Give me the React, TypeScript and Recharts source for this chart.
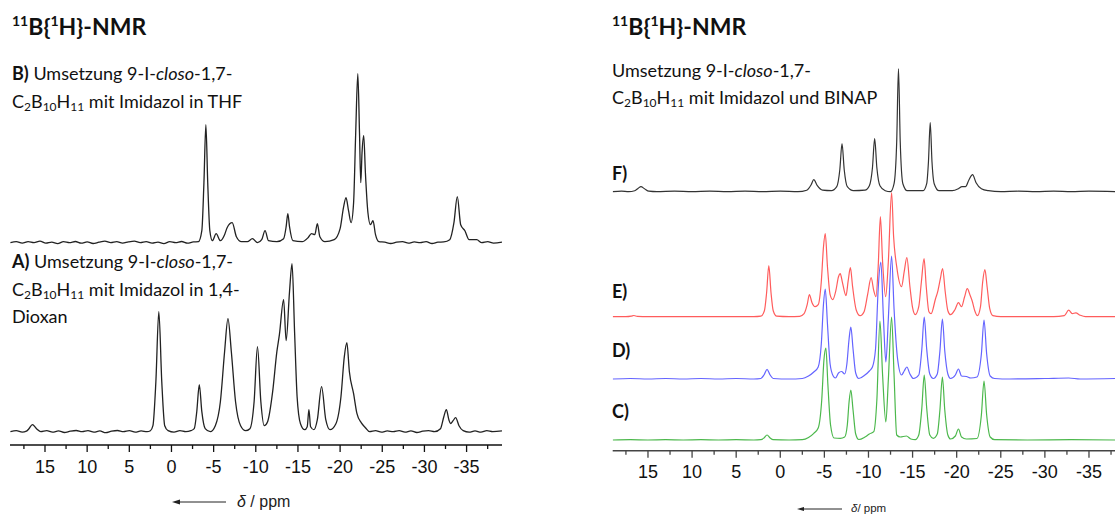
import React from 'react';
import { LineChart, Line, XAxis, YAxis } from 'recharts';

// [ppm, relative intensity] (intensity in a.u., baseline = 0)
const SPEC_B: [number, number][] = [
  [19.1, 0], [18.4, 1], [17.7, -0.5], [17.0, 1], [16.3, 0], [15.6, 1.5], [14.9, -0.5], [14.2, 0.5],
  [13.5, -1], [12.8, 1], [12.1, 0], [11.4, 1.2], [10.7, -0.5], [10.0, 0.8], [9.3, -0.8], [8.6, 0.5],
  [7.9, 1.5], [7.2, 0], [6.5, 1], [5.8, -0.5], [5.1, 0.8], [4.4, 1.5], [3.7, 0], [3.0, 1], [2.3, -0.5],
  [1.6, 0.5], [0.9, -1], [0.2, 1], [-0.5, 0], [-1.2, 1.2], [-1.9, -0.5], [-2.6, 0.8], [-3.2, 1],
  [-3.6, 12], [-3.85, 60], [-4.08, 118], [-4.3, 60], [-4.55, 12], [-4.85, 2], [-5.3, 9], [-5.8, 2],
  [-6.3, 8], [-6.6, 15], [-7.2, 20], [-7.7, 6], [-8.3, 1], [-9.0, 1], [-9.6, 4], [-10.2, 0], [-10.7, 3],
  [-11.1, 12], [-11.5, 2], [-12.5, 1], [-13.3, 4], [-13.6, 16], [-13.8, 29], [-14.0, 16], [-14.4, 2],
  [-15.5, 1], [-16.2, 5], [-16.6, 9], [-17.0, 8], [-17.3, 19], [-17.6, 6], [-18.2, 1], [-19.3, 3],
  [-20.0, 14], [-20.4, 35], [-20.7, 45], [-21.0, 32], [-21.3, 20], [-21.6, 40], [-21.85, 110],
  [-22.1, 169], [-22.3, 110], [-22.45, 60], [-22.6, 90], [-22.8, 107], [-23.0, 70], [-23.3, 30],
  [-23.6, 18], [-23.9, 22], [-24.2, 8], [-24.6, 1], [-25.3, 0.5], [-26.0, -0.8], [-26.7, 0.5],
  [-27.4, 1], [-28.1, -0.5], [-28.8, 0.8], [-29.5, 0], [-30.2, 1], [-30.9, -0.8], [-31.6, 0.5],
  [-32.3, 0.8], [-33.0, 3], [-33.5, 20], [-33.9, 46], [-34.3, 18], [-34.8, 12], [-35.3, 3],
  [-36.2, 3], [-36.8, 0], [-37.5, 1], [-38.2, -0.5], [-39.2, 0.5],
];

const SPEC_A: [number, number][] = [
  [19.1, 0], [18.4, 1], [17.7, -0.5], [17.2, 0.5], [16.9, 3], [16.5, 7], [16.0, 3], [15.5, 0],
  [14.8, 1], [14.1, -0.5], [13.4, 0.8], [12.7, -0.8], [12.0, 0.5], [11.3, 1.2], [10.6, 0], [9.9, 1],
  [9.2, -0.5], [8.5, 0.8], [7.8, -1], [7.1, 0.5], [6.4, 1.2], [5.7, 0], [5.0, 1], [4.3, -0.5],
  [3.6, 0.8], [2.9, 0], [2.5, 1], [2.2, 6], [1.85, 50], [1.5, 120], [1.15, 50], [0.8, 6], [0.4, 1],
  [-0.3, -0.5], [-1.0, 1], [-1.7, 0], [-2.3, 1], [-2.7, 3], [-3.0, 20], [-3.3, 47], [-3.6, 20],
  [-4.0, 3], [-4.6, 0], [-5.2, 6], [-5.8, 30], [-6.3, 80], [-6.7, 113], [-7.1, 80], [-7.6, 30],
  [-8.2, 6], [-8.8, 1], [-9.3, 3], [-9.8, 30], [-10.2, 85], [-10.6, 30], [-11.0, 6], [-11.4, 10],
  [-12.0, 40], [-12.5, 80], [-12.8, 97], [-13.3, 132], [-13.6, 91], [-14.0, 140], [-14.3, 168],
  [-14.6, 100], [-14.9, 35], [-15.3, 8], [-15.8, 2], [-16.1, 5], [-16.3, 22], [-16.5, 5], [-16.9, 2],
  [-17.3, 12], [-17.8, 45], [-18.3, 12], [-18.8, 2], [-19.5, 8], [-20.1, 35], [-20.5, 75],
  [-20.8, 89], [-21.1, 60], [-21.6, 38], [-22.0, 18], [-22.5, 9], [-23.0, 4], [-23.5, 0],
  [-24.2, 1], [-24.9, -0.5], [-25.6, 0.8], [-26.3, 0], [-27.0, 1], [-27.7, -0.5], [-28.4, 0.8],
  [-29.1, -0.8], [-29.8, 0.5], [-30.5, 1], [-31.2, 0], [-31.9, 3], [-32.3, 15], [-32.6, 22],
  [-32.9, 12], [-33.1, 8], [-33.4, 11], [-33.7, 14], [-34.1, 6], [-34.6, 1], [-35.3, -0.5],
  [-36.0, 0.8], [-36.7, -0.5], [-37.4, 1], [-38.1, 0], [-39.2, 0.8],
];

const SPEC_F: [number, number][] = [
  [19, 0], [18, 0.5], [17.2, 0], [16.5, 1], [16.1, 3.5], [15.8, 5], [15.4, 3], [14.9, 0.5], [14, 0],
  [12, 0.5], [10, 0], [8, 0.5], [6, 0], [4, 0.5], [2, 0], [0, 0.5], [-2, 0], [-3.0, 1.5], [-3.5, 7],
  [-3.8, 12], [-4.2, 6], [-4.8, 1.5], [-5.8, 1], [-6.4, 5], [-6.75, 22], [-7.0, 48], [-7.25, 22],
  [-7.6, 5], [-8.3, 1], [-9.6, 1.5], [-10.1, 6], [-10.45, 24], [-10.7, 53], [-10.95, 24],
  [-11.3, 6], [-11.9, 1], [-12.5, 0], [-12.9, 8], [-13.2, 50], [-13.4, 123], [-13.6, 50],
  [-13.9, 8], [-14.4, 1], [-16.2, 1], [-16.6, 8], [-16.8, 30], [-17.0, 69], [-17.2, 30],
  [-17.45, 8], [-18, 1], [-19.5, 1], [-20.2, 3], [-20.6, 5], [-21.0, 5], [-21.4, 12], [-21.8, 17],
  [-22.2, 9], [-22.8, 3], [-23.6, 1], [-25, 0], [-27, 0.5], [-29, 0], [-31, 0.5], [-33, 0],
  [-35, 0.5], [-38, 0],
];

const SPEC_E: [number, number][] = [
  [19, 0], [17.5, 0], [16.9, 0.5], [16.6, 1.2], [16.2, 0.3], [15, 0], [12, 0], [9, 0], [6, 0], [3, 0],
  [2.2, 0.5], [1.8, 6], [1.55, 24], [1.3, 51], [1.05, 24], [0.8, 6], [0.4, 0.5], [-1, 0], [-2.2, 0.3],
  [-2.7, 3], [-3.05, 12], [-3.3, 22], [-3.6, 14], [-3.95, 10], [-4.3, 12], [-4.65, 35], [-4.9, 70],
  [-5.1, 83], [-5.35, 50], [-5.65, 22], [-5.95, 17], [-6.3, 26], [-6.6, 40], [-6.8, 43], [-7.05, 34],
  [-7.45, 21], [-7.7, 36], [-7.95, 49], [-8.2, 30], [-8.6, 7], [-9.05, 1], [-9.5, 5], [-9.9, 22],
  [-10.3, 39], [-10.6, 26], [-10.85, 20], [-11.1, 50], [-11.35, 100], [-11.6, 55], [-11.95, 20],
  [-12.25, 55], [-12.62, 124], [-12.85, 80], [-13.2, 50], [-13.75, 30], [-14.05, 45], [-14.35, 59],
  [-14.7, 30], [-15.0, 9], [-15.3, 2], [-15.7, 10], [-16.0, 35], [-16.3, 58], [-16.55, 30],
  [-16.85, 5], [-17.1, 3], [-17.6, 18], [-17.85, 25], [-18.15, 38], [-18.4, 48], [-18.7, 25],
  [-19.0, 6], [-19.3, 2], [-19.8, 7], [-20.2, 14], [-20.55, 10], [-20.9, 20], [-21.2, 28],
  [-21.5, 22], [-21.75, 16], [-22.05, 6], [-22.35, 1], [-22.7, 10], [-22.95, 35], [-23.2, 47],
  [-23.45, 30], [-23.75, 8], [-24.1, 1], [-25, 0], [-28, 0], [-31, 0], [-32.2, 1], [-32.7, 6.5],
  [-33.1, 3], [-33.5, 3.8], [-34.0, 1.5], [-34.6, 0], [-38, 0],
];

const SPEC_D: [number, number][] = [
  [19, 0], [17, 0.5], [15, 0], [13, 0.5], [11, 0], [9, 0.5], [7, 0], [5, 0.5], [3, 0], [2.2, 0.5],
  [1.85, 4], [1.5, 9.7], [1.15, 4], [0.8, 0.5], [-1, 0], [-2.5, 0.5], [-3.2, 3], [-3.8, 7],
  [-4.3, 12], [-4.65, 35], [-4.9, 75], [-5.1, 90], [-5.35, 55], [-5.65, 15], [-6.0, 3], [-6.25, 1],
  [-6.6, 6], [-6.95, 7.5], [-7.3, 5], [-7.55, 15], [-7.8, 40], [-8.0, 52], [-8.25, 30], [-8.55, 6],
  [-8.9, 0.5], [-9.6, 4], [-10.1, 8], [-10.45, 12], [-10.8, 30], [-11.1, 90], [-11.4, 117],
  [-11.7, 60], [-11.97, 17], [-12.25, 60], [-12.62, 123], [-12.9, 70], [-13.3, 20], [-13.75, 4],
  [-14.05, 8], [-14.35, 12], [-14.7, 5], [-15.1, 0.5], [-15.7, 4], [-16.05, 30], [-16.32, 62],
  [-16.6, 30], [-16.95, 5], [-17.35, 0.5], [-17.8, 5], [-18.1, 28], [-18.38, 60], [-18.65, 28],
  [-19.0, 5], [-19.3, 0.5], [-19.85, 4], [-20.2, 10], [-20.55, 3], [-21.1, 2.5], [-21.6, 1],
  [-22.3, 2], [-22.8, 25], [-23.1, 59], [-23.4, 25], [-23.8, 3], [-24.3, 0.5], [-26, 0],
  [-30, 0.5], [-32.7, 1], [-34, 0], [-38, 0.5],
];

const SPEC_C: [number, number][] = [
  [19, 0], [17, 0.3], [15, 0], [13, 0.3], [11, 0], [9, 0.3], [7, 0], [5, 0.3], [3, 0], [2.2, 0.3],
  [1.85, 2], [1.5, 5], [1.15, 2], [0.8, 0.3], [-1, 0], [-2.5, 0.3], [-3.2, 2.5], [-3.8, 6.7],
  [-4.3, 12], [-4.7, 40], [-4.95, 80], [-5.17, 92], [-5.4, 55], [-5.7, 15], [-6.1, 2], [-6.8, 1.7],
  [-7.3, 3], [-7.6, 15], [-7.8, 38], [-8.0, 50], [-8.25, 30], [-8.55, 6], [-8.9, 0.5], [-9.6, 3],
  [-10.1, 6], [-10.6, 8.3], [-10.95, 40], [-11.3, 119], [-11.6, 65], [-11.97, 18], [-12.25, 60],
  [-12.62, 123], [-12.9, 65], [-13.2, 5], [-13.6, 3], [-14.3, 4], [-14.8, 1], [-15.3, 0.3],
  [-15.7, 5], [-16.05, 32], [-16.32, 65], [-16.6, 32], [-16.95, 5], [-17.35, 1.7], [-17.8, 6],
  [-18.1, 30], [-18.38, 63], [-18.65, 30], [-19.0, 5], [-19.3, 1], [-19.85, 4], [-20.2, 11],
  [-20.55, 3], [-21.1, 1], [-22.3, 1.5], [-22.8, 25], [-23.1, 59], [-23.4, 25], [-23.8, 3],
  [-24.3, 0.3], [-28, 0], [-33, 0.3], [-38, 0],
];

const PPM_TICKS = [
  17.5, 15, 12.5, 10, 7.5, 5, 2.5, 0, -2.5, -5, -7.5, -10, -12.5, -15, -17.5, -20, -22.5, -25,
  -27.5, -30, -32.5, -35, -37.5,
];

const toRows = (spec: [number, number][]) => spec.map(([ppm, v]) => ({ ppm, v }));

// domain so that intensity 0 sits at the given baseline pixel (1 a.u. = 1px)
function yDomain(baseline: number, top: number, bottom: number): [number, number] {
  const lo = baseline - bottom;
  return [lo, lo + (bottom - top)];
}

const TICK_FONT = '"Liberation Sans", Arial, sans-serif';
const TEXT_FONT = 'Lato, "Open Sans", sans-serif';

function makeTick(color: string, labelOffset: number) {
  return (props: any) => {
    const { x, y, payload } = props;
    const major = payload.value % 5 === 0;
    return (
      <g>
        <line x1={x} x2={x} y1={y} y2={y + (major ? 7 : 4)} stroke={color} strokeWidth={1.3} />
        {major && (
          <text x={x} y={y + labelOffset} textAnchor="middle" fontFamily={TICK_FONT} fontSize={18} fill="#111">
            {String(payload.value)}
          </text>
        )}
      </g>
    );
  };
}

// left panel geometry
const L_TOP = 60;
const L_BOTTOM = 445;
// right panel geometry
const R_TOP = 60;
const R_BOTTOM = 450.7;

function LeftPanel() {
  return (
    <LineChart width={540} height={515} margin={{ top: L_TOP, right: 38, left: 10, bottom: 515 - L_BOTTOM - 30 }}>
      <XAxis
        dataKey="ppm"
        type="number"
        domain={[-39.2, 19.15]}
        reversed
        allowDataOverflow
        ticks={PPM_TICKS}
        interval={0}
        tickSize={0}
        tickMargin={0}
        tickLine={false}
        height={30}
        axisLine={{ stroke: '#111', strokeWidth: 1.3 }}
        tick={makeTick('#111', 28)}
      />
      <YAxis yAxisId="B" hide type="number" allowDataOverflow domain={yDomain(242.7, L_TOP, L_BOTTOM)} />
      <YAxis yAxisId="A" hide type="number" allowDataOverflow domain={yDomain(431.7, L_TOP, L_BOTTOM)} />
      <Line yAxisId="B" data={toRows(SPEC_B)} dataKey="v" type="monotone" stroke="#222" strokeWidth={1.3} dot={false} isAnimationActive={false} />
      <Line yAxisId="A" data={toRows(SPEC_A)} dataKey="v" type="monotone" stroke="#222" strokeWidth={1.3} dot={false} isAnimationActive={false} />
    </LineChart>
  );
}

function RightPanel() {
  const series = [
    { id: 'F', spec: SPEC_F, base: 191.7, color: '#333333' },
    { id: 'E', spec: SPEC_E, base: 316.7, color: '#ff5c5c' },
    { id: 'D', spec: SPEC_D, base: 379, color: '#6464ff' },
    { id: 'C', spec: SPEC_C, base: 440, color: '#4cb84c' },
  ];
  return (
    <LineChart width={525} height={515} margin={{ top: R_TOP, right: 0, left: 22.7, bottom: 515 - R_BOTTOM - 30 }}>
      <XAxis
        dataKey="ppm"
        type="number"
        domain={[-37.95, 19]}
        reversed
        allowDataOverflow
        ticks={PPM_TICKS}
        interval={0}
        tickSize={0}
        tickMargin={0}
        tickLine={false}
        height={30}
        axisLine={{ stroke: '#444', strokeWidth: 1.5 }}
        tick={makeTick('#444', 27.5)}
      />
      {series.map((s) => (
        <YAxis key={s.id} yAxisId={s.id} hide type="number" allowDataOverflow domain={yDomain(s.base, R_TOP, R_BOTTOM)} />
      ))}
      {series.map((s) => (
        <Line
          key={s.id}
          yAxisId={s.id}
          data={toRows(s.spec)}
          dataKey="v"
          type="monotone"
          stroke={s.color}
          strokeWidth={1.2}
          dot={false}
          isAnimationActive={false}
        />
      ))}
    </LineChart>
  );
}

function Sub({ children }: { children: string }) {
  return (
    <tspan fontSize={12} dy={3}>
      {children}
    </tspan>
  );
}

function Formula({ x, y }: { x: number; y: number }) {
  // C2B10H11 with subscripts
  return (
    <>
      <tspan x={x} y={y}>C</tspan>
      <Sub>2</Sub>
      <tspan dy={-3}>B</tspan>
      <Sub>10</Sub>
      <tspan dy={-3}>H</tspan>
      <Sub>11</Sub>
      <tspan dy={-3}> </tspan>
    </>
  );
}

function Title({ x, y }: { x: number; y: number }) {
  return (
    <text x={x} y={y} fontFamily={TEXT_FONT} fontWeight="bold" fontSize={23} fill="#111">
      <tspan fontSize={14} dy={-9}>11</tspan>
      <tspan dy={9}>B{'{'}</tspan>
      <tspan fontSize={14} dy={-9}>1</tspan>
      <tspan dy={9}>H{'}'}-NMR</tspan>
    </text>
  );
}

function Overlay() {
  const t = { fontFamily: TEXT_FONT, fontSize: 18, fill: '#111' };
  return (
    <svg width={1115} height={515} style={{ position: 'absolute', left: 0, top: 0, pointerEvents: 'none' }}>
      <Title x={12} y={35} />
      <Title x={612} y={35} />

      <text x={12} y={80} {...t}>
        <tspan fontWeight="bold">B)</tspan> Umsetzung 9-I-<tspan fontStyle="italic">closo</tspan>-1,7-
      </text>
      <text {...t}>
        <Formula x={12} y={108} />
        mit Imidazol in THF
      </text>

      <text x={12} y={268} {...t}>
        <tspan fontWeight="bold">A)</tspan> Umsetzung 9-I-<tspan fontStyle="italic">closo</tspan>-1,7-
      </text>
      <text {...t}>
        <Formula x={12} y={295.5} />
        mit Imidazol in 1,4-
      </text>
      <text x={12} y={323} {...t}>Dioxan</text>

      <text x={612} y={77} {...t}>
        Umsetzung 9-I-<tspan fontStyle="italic">closo</tspan>-1,7-
      </text>
      <text {...t}>
        <Formula x={612} y={104} />
        mit Imidazol und BINAP
      </text>

      {[
        ['F)', 180],
        ['E)', 298],
        ['D)', 357],
        ['C)', 418],
      ].map(([lab, y]) => (
        <text key={lab as string} x={612} y={y as number} fontFamily={TEXT_FONT} fontWeight="bold" fontSize={18} fill="#111">
          {lab}
        </text>
      ))}

      {/* axis titles */}
      <line x1={178} x2={226} y1={502} y2={502} stroke="#222" strokeWidth={1} />
      <polygon points="172,502 180,499.5 180,504.5" fill="#222" />
      <text x={237} y={507} fontFamily={TICK_FONT} fontSize={16} fill="#222">
        <tspan fontStyle="italic">δ</tspan> / ppm
      </text>

      <line x1={802} x2={842} y1={509} y2={509} stroke="#222" strokeWidth={1} />
      <polygon points="797,509 804,507 804,511" fill="#222" />
      <text x={851} y={511.5} fontFamily={TICK_FONT} fontSize={11.5} fill="#222">
        <tspan fontStyle="italic">δ</tspan>/ ppm
      </text>
    </svg>
  );
}

export default function App() {
  return (
    <div style={{ position: 'absolute', left: 0, top: 0, width: 1115, height: 515, background: '#fff', overflow: 'hidden' }}>
      <div style={{ position: 'absolute', left: 0, top: 0 }}>
        <LeftPanel />
      </div>
      <div style={{ position: 'absolute', left: 590, top: 0 }}>
        <RightPanel />
      </div>
      <Overlay />
    </div>
  );
}
